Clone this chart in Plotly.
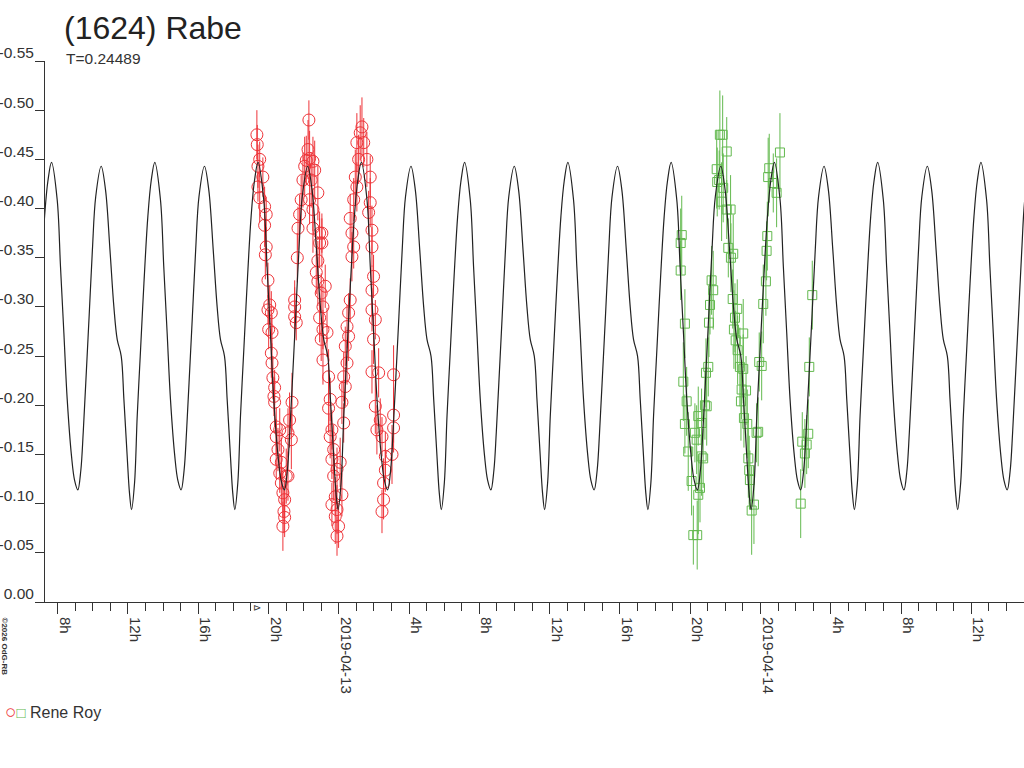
import pandas as pd
import plotly.graph_objects as go

# (1624) Rabe, session of Rene Roy, April 2019
# values
PERIOD_DAYS = 0.24489
EPOCH_HOURS = 31.16   # a main maximum, hours after 2019-04-12 00:00
DAY0 = pd.Timestamp("2019-04-12")

# model lightcurve over one rotation (phase 0 = main maximum)
model_phase = [0.000, 0.055, 0.087, 0.120, 0.152, 0.194, 0.223, 0.255, 0.284, 0.307,
               0.332, 0.364, 0.396, 0.428, 0.481, 0.523, 0.566, 0.604, 0.636, 0.675,
               0.701, 0.733, 0.755, 0.775, 0.804, 0.830, 0.862, 0.895, 0.933, 0.965]
model_mag = [-0.447, -0.409, -0.341, -0.273, -0.206, -0.148, -0.124, -0.114, -0.134, -0.172,
             -0.223, -0.290, -0.358, -0.412, -0.443, -0.419, -0.358, -0.300, -0.267, -0.250,
             -0.206, -0.148, -0.111, -0.094, -0.121, -0.189, -0.256, -0.324, -0.392, -0.428]

# first night (red circles), hours after 2019-04-12 00:00
red_hours = [19.34, 19.36, 19.50, 19.40, 19.68, 19.40, 19.50, 19.78, 19.87, 19.78,
             19.87, 19.82, 19.97, 20.07, 19.97, 20.16, 20.01, 20.20, 20.16, 20.20,
             20.25, 20.35, 20.31, 20.35, 21.34, 21.20, 20.44, 20.64, 21.11, 21.30,
             20.44, 20.54, 20.44, 20.73, 21.01, 20.64, 20.73, 20.82, 20.92, 20.88,
             20.82, 20.92, 21.11, 21.49, 21.49, 21.58, 21.49, 21.64, 21.68, 21.77,
             21.86, 21.96, 22.06, 22.15, 22.30, 22.25, 22.34, 22.53, 22.63, 22.43,
             22.34, 22.53, 22.81, 22.53, 22.91, 22.91, 22.81, 22.72, 22.81, 23.00,
             23.10, 22.91, 23.10, 23.00, 23.10, 23.04, 23.04, 23.23, 23.33, 23.42,
             23.51, 23.42, 23.61, 23.51, 23.71, 23.61, 23.90, 23.71, 23.80, 23.61,
             23.90, 23.80, 23.99, 23.90, 24.18, 24.08, 24.28, 24.18, 24.37, 24.28,
             24.47, 24.37, 24.56, 24.47, 24.56, 24.65, 24.75, 24.85, 24.75, 24.65,
             24.85, 25.03, 24.94, 25.13, 25.03, 25.22, 25.32, 25.42, 25.60, 25.79,
             25.79, 25.70, 25.89, 25.89, 25.98, 25.89, 25.89, 26.08, 25.98, 25.89,
             26.27, 26.08, 26.36, 26.17, 26.46, 26.65, 26.65, 26.55, 26.55, 26.46,
             27.12, 27.12, 27.12, 27.03]
red_mag = [-0.475, -0.465, -0.450, -0.443, -0.432, -0.422, -0.411, -0.402, -0.394, -0.383,
           -0.361, -0.353, -0.327, -0.302, -0.297, -0.294, -0.277, -0.274, -0.253, -0.243,
           -0.228, -0.218, -0.209, -0.203, -0.203, -0.185, -0.178, -0.175, -0.172, -0.165,
           -0.168, -0.155, -0.145, -0.142, -0.128, -0.131, -0.121, -0.111, -0.104, -0.092,
           -0.077, -0.086, -0.128, -0.307, -0.290, -0.284, -0.300, -0.350, -0.380, -0.394,
           -0.409, -0.429, -0.443, -0.449, -0.490, -0.460, -0.451, -0.448, -0.439, -0.429,
           -0.409, -0.399, -0.416, -0.380, -0.375, -0.365, -0.347, -0.335, -0.326, -0.314,
           -0.300, -0.289, -0.277, -0.267, -0.246, -0.375, -0.365, -0.321, -0.274, -0.229,
           -0.206, -0.197, -0.175, -0.168, -0.155, -0.145, -0.135, -0.128, -0.107, -0.099,
           -0.094, -0.087, -0.077, -0.067, -0.109, -0.142, -0.182, -0.203, -0.219, -0.229,
           -0.243, -0.260, -0.270, -0.280, -0.294, -0.307, -0.351, -0.361, -0.375, -0.390,
           -0.409, -0.422, -0.432, -0.450, -0.467, -0.477, -0.483, -0.467, -0.450, -0.432,
           -0.406, -0.396, -0.378, -0.361, -0.331, -0.317, -0.297, -0.287, -0.267, -0.234,
           -0.233, -0.199, -0.185, -0.175, -0.168, -0.148, -0.134, -0.121, -0.104, -0.092,
           -0.231, -0.190, -0.177, -0.150]
red_err = [0.025, 0.020, 0.018, 0.022, 0.020, 0.015, 0.025, 0.020, 0.018, 0.022,
           0.020, 0.025, 0.018, 0.020, 0.015, 0.022, 0.020, 0.018, 0.025, 0.020,
           0.022, 0.018, 0.020, 0.025, 0.030, 0.028, 0.020, 0.022, 0.025, 0.030,
           0.018, 0.022, 0.020, 0.025, 0.028, 0.020, 0.022, 0.025, 0.020, 0.022,
           0.025, 0.020, 0.025, 0.020, 0.022, 0.018, 0.020, 0.025, 0.022, 0.020,
           0.025, 0.028, 0.030, 0.025, 0.020, 0.030, 0.028, 0.025, 0.030, 0.028,
           0.025, 0.022, 0.028, 0.025, 0.022, 0.025, 0.020, 0.022, 0.025, 0.020,
           0.022, 0.025, 0.020, 0.022, 0.025, 0.020, 0.025, 0.022, 0.025, 0.028,
           0.022, 0.025, 0.020, 0.022, 0.025, 0.020, 0.022, 0.025, 0.020, 0.022,
           0.025, 0.028, 0.022, 0.020, 0.022, 0.025, 0.020, 0.022, 0.020, 0.025,
           0.022, 0.020, 0.025, 0.022, 0.020, 0.022, 0.025, 0.022, 0.020, 0.025,
           0.022, 0.025, 0.028, 0.025, 0.030, 0.028, 0.030, 0.025, 0.028, 0.022,
           0.025, 0.022, 0.025, 0.020, 0.022, 0.025, 0.022, 0.020, 0.025, 0.022,
           0.025, 0.028, 0.022, 0.025, 0.020, 0.025, 0.022, 0.025, 0.020, 0.022,
           0.030, 0.028, 0.025, 0.030]

# second night (green squares)
green_hours = [43.52, 43.46, 43.46, 43.70, 43.61, 43.80, 43.70, 43.89, 44.08, 44.18,
               44.40, 44.46, 44.56, 44.27, 44.37, 44.46, 44.65, 44.65, 44.74, 44.84,
               44.94, 44.90, 45.03, 45.07, 45.13, 45.31, 45.22, 45.51, 45.54, 45.69,
               45.85, 46.08, 45.65, 45.88, 45.79, 46.08, 46.30, 46.17, 46.45, 46.32,
               46.42, 46.55, 46.49, 46.68, 47.02, 46.59, 46.70, 46.83, 47.02, 46.93,
               47.18, 46.89, 47.06, 47.25, 47.31, 47.36, 47.40, 47.63, 47.50, 47.78,
               47.87, 47.93, 48.07, 48.16, 48.31, 48.35, 48.39, 48.44, 48.50, 48.73,
               48.92, 49.11, 50.29, 50.38, 50.53, 50.63, 50.72, 50.78, 50.95]
green_mag = [-0.373, -0.365, -0.337, -0.283, -0.224, -0.204, -0.181, -0.153, -0.123, -0.068,
             -0.068, -0.109, -0.116, -0.172, -0.165, -0.189, -0.182, -0.148, -0.146, -0.200,
             -0.199, -0.233, -0.239, -0.284, -0.302, -0.317, -0.327, -0.440, -0.427, -0.475,
             -0.475, -0.458, -0.429, -0.421, -0.407, -0.399, -0.399, -0.360, -0.354, -0.350,
             -0.308, -0.289, -0.277, -0.298, -0.273, -0.266, -0.256, -0.239, -0.237, -0.216,
             -0.215, -0.204, -0.187, -0.181, -0.146, -0.134, -0.124, -0.099, -0.093, -0.172,
             -0.173, -0.244, -0.240, -0.303, -0.326, -0.357, -0.372, -0.432, -0.441, -0.426,
             -0.416, -0.457, -0.100, -0.163, -0.151, -0.160, -0.171, -0.239, -0.312]
green_err = [0.040, 0.035, 0.030, 0.035, 0.040, 0.035, 0.030, 0.040, 0.035, 0.030,
             0.035, 0.040, 0.035, 0.030, 0.035, 0.030, 0.035, 0.040, 0.030, 0.035,
             0.040, 0.035, 0.030, 0.035, 0.030, 0.040, 0.035, 0.040, 0.035, 0.045,
             0.040, 0.035, 0.030, 0.035, 0.040, 0.030, 0.035, 0.030, 0.040, 0.035,
             0.030, 0.035, 0.040, 0.030, 0.035, 0.030, 0.035, 0.040, 0.035, 0.030,
             0.035, 0.040, 0.030, 0.035, 0.040, 0.035, 0.030, 0.040, 0.045, 0.030,
             0.035, 0.030, 0.035, 0.040, 0.035, 0.030, 0.035, 0.040, 0.035, 0.030,
             0.035, 0.040, 0.035, 0.030, 0.035, 0.030, 0.035, 0.030, 0.035]

x_tick_hours = [8, 12, 16, 20, 24, 28, 32, 36, 40, 44, 48, 52, 56, 60]
x_tick_text = ["8h", "12h", "16h", "20h", "2019-04-13", "4h", "8h", "12h",
               "16h", "20h", "2019-04-14", "4h", "8h", "12h"]
y_tick_vals = [-0.55, -0.50, -0.45, -0.40, -0.35, -0.30, -0.25, -0.20, -0.15, -0.10, -0.05, 0.00]
y_tick_text = ["-0.55", "-0.50", "-0.45", "-0.40", "-0.35", "-0.30", "-0.25", "-0.20",
               "-0.15", "-0.10", "-0.05", "0.00"]
x_range_hours = [7.28, 63.0]

RED = "#ee3338"
GREEN = "#63b94f"
INK = "#333333"
FONT = "Liberation Sans, Arial, sans-serif"


def to_time(hours):
    return [DAY0 + pd.Timedelta(hours=h) for h in hours]


# repeat the one-period model over the whole time span
period_h = PERIOD_DAYS * 24
model_hours = []
model_y = []
for n in range(-5, 7):
    for ph, m in zip(model_phase, model_mag):
        model_hours.append(EPOCH_HOURS + (n + ph) * period_h)
        model_y.append(m)

fig = go.Figure()
fig.add_trace(go.Scatter(
    x=to_time(red_hours), y=red_mag, mode="markers",
    marker=dict(symbol="circle-open", size=12, color=RED, line=dict(width=1)),
    error_y=dict(type="data", array=red_err, color=RED, thickness=1, width=0),
))
fig.add_trace(go.Scatter(
    x=to_time(green_hours), y=green_mag, mode="markers",
    marker=dict(symbol="square-open", size=9, color=GREEN, line=dict(width=1)),
    error_y=dict(type="data", array=green_err, color=GREEN, thickness=1, width=0),
))
fig.add_trace(go.Scatter(
    x=to_time(model_hours), y=model_y, mode="lines",
    line=dict(color="#222222", width=1.2, shape="spline"),
))

fig.update_layout(
    width=1024, height=768,
    margin=dict(l=45, r=0, t=61, b=166),
    paper_bgcolor="white", plot_bgcolor="white",
    showlegend=False,
    font=dict(family=FONT, color=INK),
    xaxis=dict(
        type="date", range=to_time(x_range_hours), automargin=False,
        tickmode="array", tickvals=to_time(x_tick_hours), ticktext=x_tick_text,
        tickangle=90, tickfont=dict(size=15, color=INK), ticklabelshift=7,
        ticks="outside", ticklen=11, tickcolor=INK,
        minor=dict(ticks="outside", ticklen=8, tickcolor=INK,
                   dtick=3600000, tick0="2019-04-12 00:00"),
        showline=True, linecolor=INK, linewidth=1,
        showgrid=False, zeroline=False,
    ),
    yaxis=dict(
        range=[0, -0.55], automargin=False,
        tickmode="array", tickvals=y_tick_vals, ticktext=y_tick_text,
        tickfont=dict(size=15.5, color=INK), ticklabelshift=8, ticklabelstandoff=-2,
        ticks="outside", ticklen=9, tickcolor=INK,
        showline=True, linecolor=INK, linewidth=1,
        showgrid=False, zeroline=False,
    ),
)

fig.add_annotation(text="(1624) Rabe", xref="paper", yref="paper", x=0.0174, y=1.061,
                   xanchor="left", yanchor="middle", showarrow=False,
                   font=dict(size=32, color="#222222"))
fig.add_annotation(text="T=0.24489", xref="paper", yref="paper", x=0.0194, y=1.0055,
                   xanchor="left", yanchor="middle", showarrow=False,
                   font=dict(size=15.5, color=INK))
fig.add_annotation(text=(f'<span style="color:{RED};font-size:19px">○</span>'
                         f'<span style="color:{GREEN};font-size:15px">□</span> Rene Roy'),
                   xref="paper", yref="paper", x=-0.043, y=-0.2033,
                   xanchor="left", yanchor="middle", showarrow=False,
                   font=dict(size=16, color=INK))
fig.add_annotation(text="<b>©2026 OdG-RB</b>", xref="paper", yref="paper", x=-0.041, y=-0.082,
                   xanchor="center", yanchor="middle", textangle=90, showarrow=False,
                   font=dict(size=8, color=INK))
fig.add_annotation(text="⊳", xref="x", yref="paper", x=DAY0 + pd.Timedelta(hours=19.0), y=-0.01,
                   xanchor="left", yanchor="middle", showarrow=False,
                   font=dict(size=10, color=INK))

# the page's default body margin would shift the whole figure by 8 px
fig.write_html("out.html", config={"displayModeBar": False},
               post_script="document.body.style.margin = '0';")
